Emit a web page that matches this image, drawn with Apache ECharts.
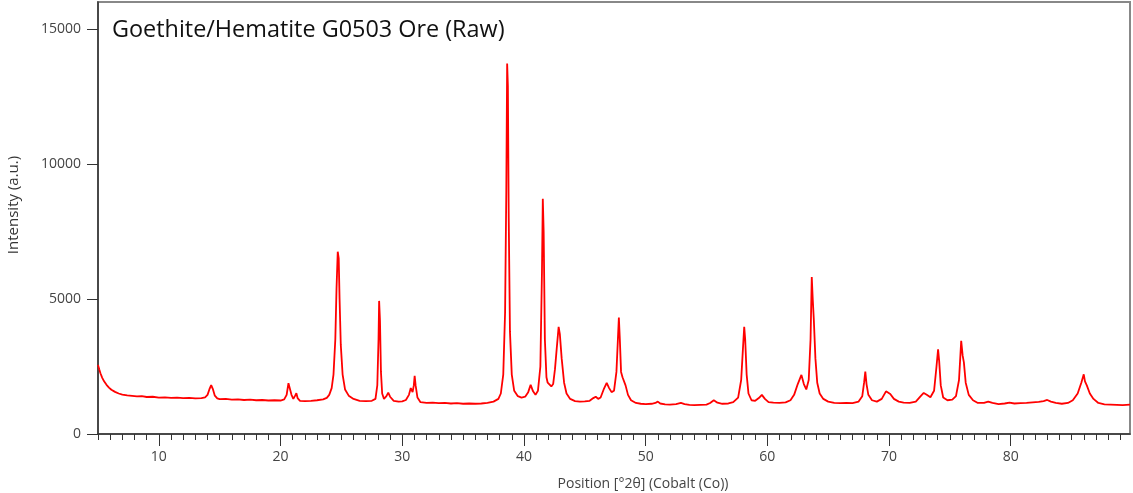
<!DOCTYPE html>
<html>
<head>
<meta charset="utf-8">
<script src="https://cdn.jsdelivr.net/npm/echarts@6/dist/echarts.min.js"></script>
<style>
html,body{margin:0;padding:0;background:#fff;}
#chart{width:1133px;height:493px;}
</style>
</head>
<body>
<div id="chart"></div>
<script>
// Position (°2θ)
const pos = [
5.0,5.1,5.2,5.35,5.5,5.7,5.9,6.1,6.4,6.7,7.0,7.4,7.8,8.2,8.6,9.0,9.5,10.0,10.5,11.0,11.5,12.0,12.5,13.0,13.5,13.8,14.0,14.15,14.3,14.45,14.6,14.8,15.0,15.5,16.0,16.5,17.0,17.5,18.0,18.5,19.0,19.5,20.0,20.3,20.5,20.65,20.75,20.9,21.05,21.2,21.3,21.4,21.6,22.0,22.5,23.0,23.5,23.8,24.0,24.2,24.35,24.5,24.6,24.7,24.78,24.85,24.95,25.1,25.3,25.6,26.0,26.5,27.0,27.5,27.8,27.95,28.05,28.1,28.17,28.25,28.35,28.5,28.7,28.85,29.0,29.3,29.7,30.0,30.3,30.55,30.7,30.85,30.95,31.02,31.1,31.25,31.5,32.0,32.5,33.0,33.5,34.0,34.5,35.0,35.5,36.0,36.5,37.0,37.5,37.9,38.1,38.3,38.45,38.55,38.62,38.68,38.75,38.85,39.0,39.2,39.5,39.8,40.1,40.35,40.55,40.75,40.95,41.15,41.35,41.48,41.55,41.62,41.72,41.85,41.95,42.1,42.25,42.4,42.55,42.7,42.85,42.95,43.1,43.3,43.5,43.8,44.2,44.6,45.0,45.4,45.7,45.9,46.1,46.3,46.55,46.8,47.0,47.2,47.4,47.6,47.72,47.8,47.88,47.98,48.1,48.2,48.35,48.55,48.8,49.2,49.6,50.0,50.5,50.8,51.0,51.2,51.6,52.0,52.5,52.9,53.2,53.6,54.0,54.5,55.0,55.3,55.6,55.9,56.3,56.8,57.2,57.6,57.85,58.0,58.1,58.18,58.3,58.45,58.7,59.0,59.3,59.55,59.8,60.1,60.5,61.0,61.5,61.9,62.2,62.5,62.8,63.0,63.2,63.4,63.55,63.65,63.73,63.82,63.95,64.1,64.3,64.6,65.0,65.5,66.0,66.5,67.0,67.5,67.8,67.95,68.05,68.15,68.3,68.6,69.0,69.4,69.75,69.9,70.1,70.4,70.8,71.2,71.7,72.2,72.6,72.85,73.1,73.4,73.7,73.9,74.03,74.12,74.25,74.45,74.8,75.2,75.5,75.75,75.93,76.05,76.15,76.3,76.55,76.9,77.3,77.8,78.15,78.5,79.0,79.5,79.9,80.3,80.8,81.3,81.8,82.3,82.7,83.0,83.3,83.7,84.2,84.7,85.1,85.5,85.8,86.0,86.1,86.25,86.5,86.8,87.2,87.7,88.2,88.7,89.2,89.8
];
// Intensity (a.u.)
const intensity = [
2560,2400,2250,2080,1950,1820,1720,1640,1560,1500,1460,1430,1410,1390,1400,1370,1380,1350,1360,1340,1350,1330,1340,1320,1330,1360,1450,1650,1810,1650,1420,1320,1290,1300,1270,1280,1260,1270,1250,1260,1240,1250,1240,1280,1450,1880,1850,1450,1300,1420,1510,1330,1230,1220,1230,1250,1280,1340,1450,1700,2200,3500,5400,6750,6500,5000,3300,2200,1650,1420,1300,1230,1220,1230,1300,1800,3500,4930,4200,2300,1500,1300,1400,1530,1380,1230,1200,1210,1260,1450,1700,1550,1800,2150,1800,1350,1180,1150,1160,1140,1150,1130,1140,1120,1130,1120,1130,1150,1200,1300,1500,2200,4500,9000,13720,12900,8000,3800,2200,1600,1400,1350,1380,1550,1820,1580,1450,1600,2500,6000,8710,7500,3500,2100,1900,1850,1760,1850,2400,3200,3970,3700,2800,1900,1500,1300,1220,1200,1210,1230,1330,1380,1300,1350,1650,1890,1700,1550,1600,2300,3500,4310,3500,2300,2100,2120,1800,1450,1250,1150,1120,1110,1120,1150,1200,1130,1100,1090,1110,1150,1110,1080,1070,1080,1090,1150,1250,1160,1120,1130,1180,1350,2000,3200,3970,3500,2200,1500,1250,1230,1330,1450,1300,1180,1160,1150,1170,1250,1450,1850,2190,1850,1650,2000,3500,5810,5000,4230,2800,1900,1500,1300,1200,1150,1140,1150,1140,1200,1400,1900,2310,1850,1450,1250,1200,1300,1580,1630,1480,1300,1200,1160,1150,1200,1400,1520,1450,1360,1600,2500,3140,2700,1800,1350,1250,1270,1400,2000,3450,2900,2650,1900,1450,1250,1150,1150,1200,1150,1110,1130,1160,1130,1140,1150,1170,1190,1220,1260,1200,1150,1120,1150,1250,1500,1900,2210,1950,1800,1500,1300,1150,1100,1090,1080,1070,1090
];
const xMajorTicks = [10,20,30,40,50,60,70,80];
const xMinorTicks = [5,6,7,8,9,10,11,12,13,14,15,16,17,18,19,20,21,22,23,24,25,26,27,28,29,30,31,32,33,34,35,36,37,38,39,40,41,42,43,44,45,46,47,48,49,50,51,52,53,54,55,56,57,58,59,60,61,62,63,64,65,66,67,68,69,70,71,72,73,74,75,76,77,78,79,80,81,82,83,84,85,86,87,88,89];
const yTicks = [0,5000,10000,15000];
const titleText = 'Goethite/Hematite G0503 Ore (Raw)';
const xName = 'Position [°2θ] (Cobalt (Co))';
const yName = 'Intensity (a.u.)';

const chart = echarts.init(document.getElementById('chart'), null, {renderer:'canvas'});
const data = pos.map((p,i)=>[p,intensity[i]]);
const FONT = '"Open Sans", "Noto Sans", sans-serif';
const X_MIN = 5, X_MAX = 89.8, Y_MAX = 16000;

chart.setOption({
  animation:false,
  backgroundColor:'#ffffff',
  grid:{left:98,right:3,top:2,bottom:59,show:true,borderColor:'#888888',borderWidth:2,backgroundColor:'transparent'},
  xAxis:[{
    type:'value',min:X_MIN,max:X_MAX,position:'bottom',
    axisLine:{show:true,onZero:false,lineStyle:{color:'#333333',width:1.5}},
    axisTick:{show:true,customValues:xMajorTicks,length:12,lineStyle:{color:'#333333',width:1}},
    axisLabel:{customValues:xMajorTicks,color:'#444444',fontSize:14,fontFamily:FONT,margin:16,formatter:v=>String(v)},
    splitLine:{show:false}
  },{
    type:'value',min:X_MIN,max:X_MAX,position:'bottom',
    axisLine:{show:false},
    axisTick:{show:true,customValues:xMinorTicks,length:6,lineStyle:{color:'#333333',width:1}},
    axisLabel:{show:false},
    splitLine:{show:false}
  }],
  yAxis:{
    type:'value',min:0,max:Y_MAX,
    axisLine:{show:true,onZero:false,lineStyle:{color:'#333333',width:1.5}},
    axisTick:{show:true,customValues:yTicks,length:11,lineStyle:{color:'#333333',width:1}},
    axisLabel:{customValues:yTicks,color:'#444444',fontSize:14,fontFamily:FONT,margin:17,formatter:v=>String(v)},
    splitLine:{show:false}
  },
  graphic:[
    {type:'text',left:112,top:19,style:{text:titleText,fill:'#111111',font:'23.4px '+FONT}},
    {type:'text',x:643,y:484,style:{text:xName,fill:'#444444',font:'14px '+FONT,textAlign:'center',textVerticalAlign:'middle'}},
    {type:'text',x:14,y:205,rotation:Math.PI/2,style:{text:yName,fill:'#333333',font:'15px '+FONT,textAlign:'center',textVerticalAlign:'middle'}}
  ],
  series:[{
    type:'line',xAxisIndex:0,yAxisIndex:0,data:data,showSymbol:false,
    lineStyle:{color:'#ff0000',width:1.8},
    itemStyle:{color:'#ff0000'},
    silent:true
  }]
});
</script>
</body>
</html>
